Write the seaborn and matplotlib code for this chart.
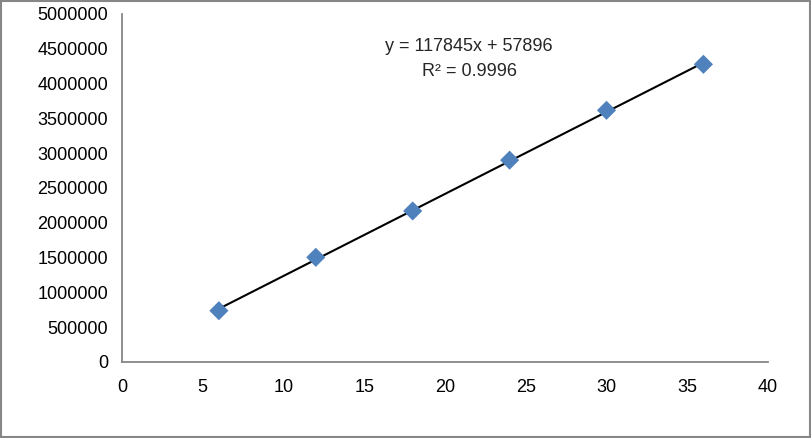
import numpy as np
import pandas as pd
import seaborn as sns
import matplotlib.pyplot as plt
from matplotlib.patches import Rectangle

# Data
hours = [6, 12, 18, 24, 30, 36]
signal = [737000, 1504000, 2170000, 2900000, 3616000, 4277000]

# Trendline as printed on the chart
slope = 117845
intercept = 57896
r_squared = 0.9996

df = pd.DataFrame({"x": hours, "y": signal})
fit = pd.DataFrame({"x": [hours[0], hours[-1]]})
fit["y"] = slope * fit["x"] + intercept

sns.set_style("white")
plt.rcParams['font.family'] = ['Liberation Sans', 'DejaVu Sans']

fig = plt.figure(figsize=(8.12, 4.38), dpi=100)
ax = fig.add_axes([122 / 812, 76 / 438, 646 / 812, 348 / 438])

sns.lineplot(data=fit, x="x", y="y", ax=ax, color="black", linewidth=1.5, zorder=2)
sns.scatterplot(data=df, x="x", y="y", ax=ax, marker="D", s=95,
                color="#4F81BD", edgecolor="none", zorder=3)

ax.set_xlim(0, 40)
ax.set_ylim(0, 5000000)
ax.set_xticks(range(0, 41, 5))
ax.set_yticks(range(0, 5000001, 500000))
ax.set_yticklabels([str(v) for v in range(0, 5000001, 500000)])
ax.set_xlabel("")
ax.set_ylabel("")

grey = "#868686"
for side in ["top", "right"]:
    ax.spines[side].set_visible(False)
for side in ["left", "bottom"]:
    ax.spines[side].set_color(grey)
    ax.spines[side].set_linewidth(1.3)
ax.tick_params(axis="both", direction="out", length=5, width=1.3, color=grey,
               labelsize=13, labelcolor="black")
ax.tick_params(axis="y", pad=5)
ax.tick_params(axis="x", pad=7)

ax.text(21.5, 4530000, f"y = {slope}x + {intercept}", ha="center", va="center", fontsize=13)
ax.text(21.5, 4170000, f"R² = {r_squared}", ha="center", va="center", fontsize=13)

fig.patches.append(Rectangle((0.001, 0.002), 0.996, 0.995, transform=fig.transFigure,
                             fill=False, edgecolor=grey, linewidth=1.5))

plt.savefig("out.png", dpi=100)
plt.close()
